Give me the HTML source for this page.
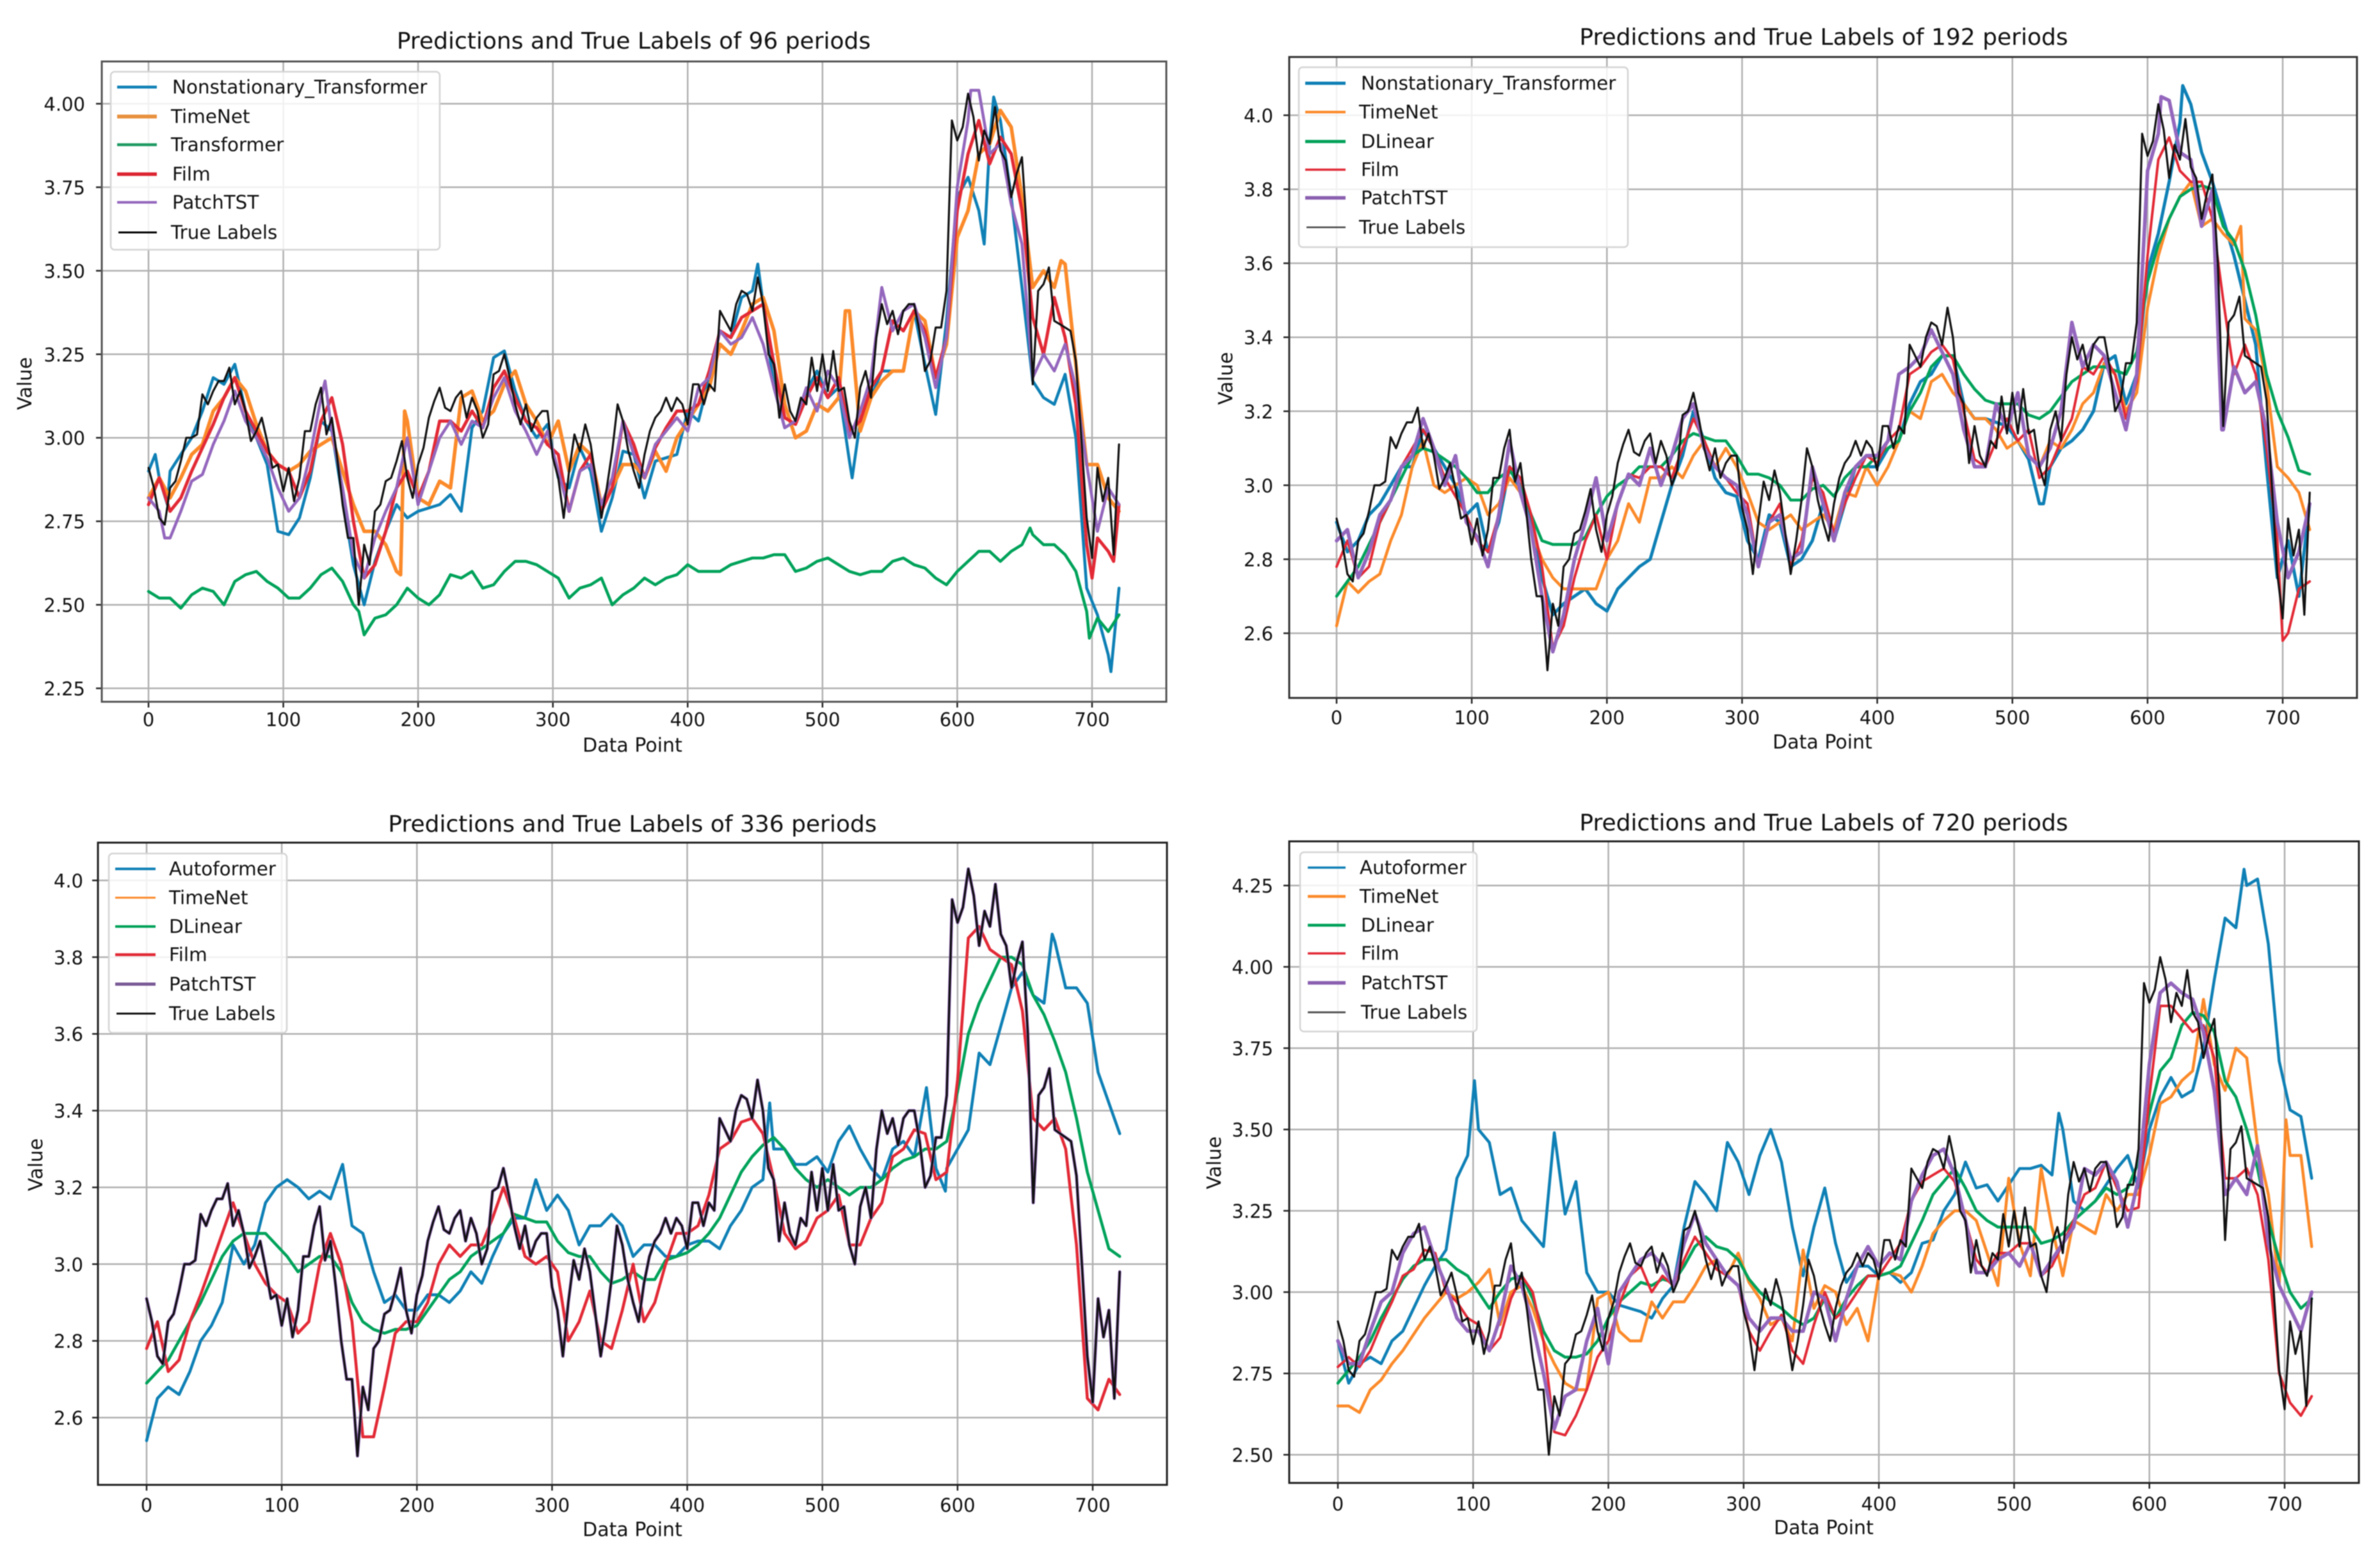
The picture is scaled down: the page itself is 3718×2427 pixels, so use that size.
<!DOCTYPE html>
<html lang="en">
<head>
<meta charset="utf-8">
<title>Predictions and True Labels</title>
<style>
html,body{margin:0;padding:0;background:#fff;}
svg{display:block;filter:blur(0.8px);}
text{font-family:"DejaVu Sans","Liberation Sans",sans-serif;fill:#111;}
.title{font-size:36px;text-anchor:middle;}
.axis-label{font-size:30px;text-anchor:middle;}
.legend-text{font-size:29.4px;}
.tick-label{font-size:29px;}
.legend-box{fill:#fff;fill-opacity:.82;stroke:#d4d4d4;stroke-width:2.5;}
</style>
</head>
<body>
<svg id="figure" xmlns="http://www.w3.org/2000/svg" width="3718" height="2427" viewBox="0 0 3718 2427">
  <rect width="3718" height="2427" fill="#fff"/>

  <g>
    <g id="plot-p96"></g>
    <text class="title" x="990" y="76">Predictions and True Labels of 96 periods</text>
    <text class="axis-label" x="988" y="1174">Data Point</text>
    <text class="axis-label" transform="translate(49,599) rotate(-90)">Value</text>
    <g>
      <rect class="legend-box" x="173" y="112" width="514" height="278" rx="6"/>
      <g><line x1="183" x2="245" y1="136" y2="136" stroke="#0f80b5" stroke-width="4.5"/><text class="legend-text" x="269" y="146">Nonstationary_Transformer</text></g>
      <g><line x1="183" x2="245" y1="182" y2="182" stroke="#e8913f" stroke-width="6"/><text class="legend-text" x="267" y="192">TimeNet</text></g>
      <g><line x1="183" x2="245" y1="226" y2="226" stroke="#1f9a63" stroke-width="4.5"/><text class="legend-text" x="267" y="236">Transformer</text></g>
      <g><line x1="183" x2="245" y1="272" y2="272" stroke="#dc2430" stroke-width="5.5"/><text class="legend-text" x="269" y="282">Film</text></g>
      <g><line x1="183" x2="245" y1="316" y2="316" stroke="#9467bd" stroke-width="4"/><text class="legend-text" x="269" y="326">PatchTST</text></g>
      <g><line x1="185" x2="245" y1="363" y2="363" stroke="#000" stroke-width="3"/><text class="legend-text" x="267" y="373">True Labels</text></g>
    </g>
  </g>

  <g>
    <g id="plot-p192"></g>
    <text class="title" x="2849" y="70">Predictions and True Labels of 192 periods</text>
    <text class="axis-label" x="2847" y="1169">Data Point</text>
    <text class="axis-label" transform="translate(1925,591) rotate(-90)">Value</text>
    <g>
      <rect class="legend-box" x="2029" y="105" width="514" height="281" rx="6"/>
      <g><line x1="2039" x2="2102" y1="130" y2="130" stroke="#0f80b5" stroke-width="5"/><text class="legend-text" x="2126" y="140">Nonstationary_Transformer</text></g>
      <g><line x1="2039" x2="2102" y1="175" y2="175" stroke="#fb8a2a" stroke-width="4"/><text class="legend-text" x="2123" y="185">TimeNet</text></g>
      <g><line x1="2039" x2="2102" y1="221" y2="221" stroke="#00a25a" stroke-width="5"/><text class="legend-text" x="2126" y="231">DLinear</text></g>
      <g><line x1="2039" x2="2102" y1="265" y2="265" stroke="#e22a36" stroke-width="3.5"/><text class="legend-text" x="2126" y="275">Film</text></g>
      <g><line x1="2039" x2="2102" y1="309" y2="309" stroke="#8a5fb0" stroke-width="5.5"/><text class="legend-text" x="2126" y="319">PatchTST</text></g>
      <g><line x1="2041" x2="2102" y1="355" y2="355" stroke="#444" stroke-width="2.5"/><text class="legend-text" x="2123" y="365">True Labels</text></g>
    </g>
  </g>

  <g>
    <g id="plot-p336"></g>
    <text class="title" x="988" y="1299">Predictions and True Labels of 336 periods</text>
    <text class="axis-label" x="988" y="2399">Data Point</text>
    <text class="axis-label" transform="translate(66,1819) rotate(-90)">Value</text>
    <g>
      <rect class="legend-box" x="170" y="1333" width="278" height="280" rx="6"/>
      <g><line x1="180" x2="243" y1="1357" y2="1357" stroke="#0f80b5" stroke-width="4"/><text class="legend-text" x="264" y="1367">Autoformer</text></g>
      <g><line x1="180" x2="243" y1="1402" y2="1402" stroke="#fb8a2a" stroke-width="3"/><text class="legend-text" x="264" y="1412">TimeNet</text></g>
      <g><line x1="180" x2="243" y1="1447" y2="1447" stroke="#00a25a" stroke-width="4"/><text class="legend-text" x="264" y="1457">DLinear</text></g>
      <g><line x1="180" x2="243" y1="1491" y2="1491" stroke="#e22a36" stroke-width="4.5"/><text class="legend-text" x="264" y="1501">Film</text></g>
      <g><line x1="180" x2="243" y1="1537" y2="1537" stroke="#7a5a96" stroke-width="5"/><text class="legend-text" x="264" y="1547">PatchTST</text></g>
      <g><line x1="182" x2="243" y1="1583" y2="1583" stroke="#111" stroke-width="3"/><text class="legend-text" x="264" y="1593">True Labels</text></g>
    </g>
  </g>

  <g>
    <g id="plot-p720"></g>
    <text class="title" x="2849" y="1297">Predictions and True Labels of 720 periods</text>
    <text class="axis-label" x="2849" y="2396">Data Point</text>
    <text class="axis-label" transform="translate(1907,1816) rotate(-90)">Value</text>
    <g>
      <rect class="legend-box" x="2031" y="1331" width="276" height="280" rx="6"/>
      <g><line x1="2043" x2="2102" y1="1355" y2="1355" stroke="#0f80b5" stroke-width="3.5"/><text class="legend-text" x="2124" y="1365">Autoformer</text></g>
      <g><line x1="2043" x2="2102" y1="1400" y2="1400" stroke="#fb8a2a" stroke-width="4.5"/><text class="legend-text" x="2124" y="1410">TimeNet</text></g>
      <g><line x1="2043" x2="2102" y1="1445" y2="1445" stroke="#00a25a" stroke-width="4.5"/><text class="legend-text" x="2126" y="1455">DLinear</text></g>
      <g><line x1="2043" x2="2102" y1="1489" y2="1489" stroke="#e22a36" stroke-width="3.5"/><text class="legend-text" x="2126" y="1499">Film</text></g>
      <g><line x1="2043" x2="2102" y1="1535" y2="1535" stroke="#8a5fb0" stroke-width="5.5"/><text class="legend-text" x="2126" y="1545">PatchTST</text></g>
      <g><line x1="2043" x2="2102" y1="1581" y2="1581" stroke="#555" stroke-width="3"/><text class="legend-text" x="2126" y="1591">True Labels</text></g>
    </g>
  </g>
</svg>

<script>
// x tick values shared by all panels
const xTickValues = [0,100,200,300,400,500,600,700];
// y tick labels per panel
const yTicks96 = ['2.25','2.50','2.75','3.00','3.25','3.50','3.75','4.00'];
const yTicks192 = ['2.6','2.8','3.0','3.2','3.4','3.6','3.8','4.0'];
const yTicks336 = ['2.6','2.8','3.0','3.2','3.4','3.6','3.8','4.0'];
const yTicks720 = ['2.50','2.75','3.00','3.25','3.50','3.75','4.00','4.25'];

// spacing of samples along the data-point axis
const trueStep = 4;
const seriesStep = 8;

// true labels, one value every 4 data points
const trueLabels = [
2.91,2.85,2.76,2.74,2.85,2.87,2.93,3.00,3.00,3.01,
3.13,3.10,3.14,3.17,3.17,3.21,3.10,3.14,3.08,2.99,
3.02,3.06,2.99,2.91,2.92,2.84,2.91,2.81,2.88,3.02,
3.02,3.10,3.15,3.01,3.06,2.94,2.80,2.70,2.70,2.50,
2.68,2.62,2.78,2.80,2.87,2.88,2.93,2.99,2.88,2.82,
2.92,2.97,3.06,3.11,3.15,3.09,3.08,3.12,3.14,3.06,
3.12,3.08,3.00,3.04,3.19,3.20,3.25,3.18,3.10,3.04,
3.10,3.02,3.06,3.08,3.08,2.94,2.88,2.76,2.90,3.01,
2.96,3.04,2.98,2.87,2.76,2.85,2.96,3.10,3.05,2.96,
2.90,2.85,2.95,3.02,3.06,3.08,3.12,3.08,3.12,3.10,
3.04,3.16,3.16,3.10,3.16,3.14,3.38,3.35,3.32,3.40,
3.44,3.43,3.38,3.48,3.40,3.25,3.22,3.06,3.16,3.08,
3.05,3.12,3.10,3.24,3.14,3.25,3.14,3.26,3.14,3.15,
3.05,3.00,3.15,3.20,3.12,3.30,3.40,3.34,3.38,3.31,
3.38,3.40,3.40,3.32,3.20,3.23,3.33,3.33,3.44,3.95,
3.89,3.93,4.03,3.96,3.83,3.92,3.88,3.99,3.86,3.83,
3.72,3.79,3.84,3.60,3.16,3.44,3.46,3.51,3.35,3.34,
3.33,3.32,3.23,3.00,2.76,2.64,2.91,2.81,2.88,2.65,
2.98];

// 96-period panel, one value every 8 data points
const p96Nonstationary = [
2.90,2.88,2.90,2.95,3.00,3.08,3.18,3.16,3.22,3.08,
3.00,2.92,2.72,2.71,2.76,2.88,3.05,3.02,2.82,2.62,
2.50,2.63,2.72,2.80,2.76,2.78,2.79,2.80,2.83,2.78,
3.03,3.08,3.24,3.26,3.14,3.05,3.00,3.04,2.88,2.85,
2.97,2.90,2.72,2.82,2.96,2.95,2.82,2.93,2.94,2.95,
3.08,3.05,3.18,3.32,3.30,3.42,3.44,3.40,3.15,3.03,
3.05,3.14,3.20,3.12,3.15,2.93,3.05,3.12,3.20,3.20,
3.20,3.38,3.22,3.07,3.35,3.72,3.78,3.68,3.88,3.95,
3.72,3.45,3.17,3.12,3.10,3.19,3.00,2.55,2.47,2.35,
2.55];
const p96TimeNet = [
2.82,2.88,2.82,2.88,2.95,2.98,3.08,3.12,3.18,3.14,
3.04,2.96,2.92,2.90,2.92,2.96,2.98,3.00,2.90,2.80,
2.72,2.72,2.68,2.60,3.05,2.82,2.80,2.87,2.85,3.12,
3.14,3.05,3.08,3.16,3.20,3.10,3.05,2.98,3.05,2.90,
2.98,2.95,2.80,2.85,2.92,2.92,2.88,2.96,2.90,3.00,
3.05,3.10,3.15,3.28,3.25,3.32,3.40,3.42,3.32,3.10,
3.00,3.02,3.10,3.08,3.12,3.38,3.02,3.12,3.17,3.20,
3.20,3.38,3.35,3.18,3.28,3.60,3.68,3.85,3.88,3.98,
3.93,3.72,3.45,3.50,3.45,3.52,3.22,2.92,2.92,2.82,
2.78];
const p96Transformer = [
2.54,2.52,2.52,2.49,2.53,2.55,2.54,2.50,2.57,2.59,
2.60,2.57,2.55,2.52,2.52,2.55,2.59,2.61,2.57,2.50,
2.41,2.46,2.47,2.50,2.55,2.52,2.50,2.53,2.59,2.58,
2.60,2.55,2.56,2.60,2.63,2.63,2.62,2.60,2.58,2.52,
2.55,2.56,2.58,2.50,2.53,2.55,2.58,2.56,2.58,2.59,
2.62,2.60,2.60,2.60,2.62,2.63,2.64,2.64,2.65,2.65,
2.60,2.61,2.63,2.64,2.62,2.60,2.59,2.60,2.60,2.63,
2.64,2.62,2.61,2.58,2.56,2.60,2.63,2.66,2.66,2.63,
2.66,2.68,2.71,2.68,2.68,2.65,2.60,2.48,2.46,2.42,
2.47];
const p96Film = [
2.80,2.88,2.78,2.82,2.90,2.97,3.04,3.12,3.18,3.08,
3.02,2.96,2.92,2.90,2.82,2.90,3.05,3.12,2.98,2.75,
2.58,2.62,2.72,2.85,2.90,2.82,2.90,3.05,3.05,3.02,
3.08,3.03,3.15,3.20,3.12,3.05,3.03,2.98,2.95,2.78,
2.90,2.95,2.78,2.85,3.05,2.98,2.88,2.97,3.03,3.08,
3.08,3.10,3.20,3.32,3.30,3.36,3.38,3.40,3.22,3.06,
3.04,3.12,3.18,3.12,3.18,3.02,3.05,3.15,3.20,3.35,
3.32,3.38,3.32,3.18,3.30,3.68,3.85,3.95,3.82,3.90,
3.85,3.68,3.36,3.25,3.42,3.30,3.10,2.68,2.70,2.66,
2.80];
const p96PatchTST = [
2.82,2.78,2.70,2.78,2.87,2.89,2.98,3.05,3.14,3.05,
3.00,2.94,2.85,2.78,2.82,2.95,3.12,3.02,2.85,2.65,
2.58,2.70,2.78,2.85,3.00,2.80,2.90,3.00,3.05,2.98,
3.05,3.03,3.12,3.18,3.08,3.02,2.95,3.02,2.90,2.78,
2.90,2.92,2.80,2.88,3.05,2.95,2.88,2.98,3.02,3.06,
3.02,3.15,3.18,3.32,3.28,3.30,3.36,3.28,3.15,3.03,
3.05,3.15,3.08,3.20,3.15,3.00,3.08,3.18,3.45,3.32,
3.38,3.40,3.30,3.15,3.30,3.75,3.95,4.04,3.85,3.88,
3.70,3.58,3.18,3.25,3.20,3.28,3.15,2.92,2.72,2.85,
2.80];

// 192-period panel
const p192Nonstationary = [
2.90,2.82,2.85,2.92,2.95,3.00,3.05,3.05,3.15,3.10,
3.05,3.00,2.92,2.95,2.82,2.90,3.05,2.98,2.90,2.75,
2.65,2.68,2.70,2.72,2.68,2.66,2.72,2.75,2.78,2.80,
2.90,3.00,3.08,3.20,3.12,3.02,2.98,2.97,2.85,2.80,
2.92,2.90,2.78,2.80,2.85,2.95,2.85,2.95,3.05,3.05,
3.05,3.10,3.12,3.22,3.28,3.30,3.35,3.35,3.22,3.18,
3.18,3.17,3.16,3.12,3.07,2.95,3.05,3.10,3.12,3.15,
3.20,3.33,3.35,3.22,3.30,3.58,3.68,3.82,3.98,4.03,
3.90,3.82,3.72,3.62,3.50,3.38,3.05,2.75,2.85,2.70,
2.95];
const p192TimeNet = [
2.62,2.74,2.71,2.74,2.76,2.85,2.92,3.05,3.12,3.00,
2.98,3.00,3.02,3.00,2.92,2.95,3.02,2.98,2.88,2.80,
2.75,2.72,2.72,2.72,2.72,2.80,2.85,2.95,2.90,3.02,
3.02,3.05,3.02,3.08,3.12,3.05,3.10,3.05,2.98,2.90,
2.88,2.90,2.92,2.88,2.90,2.92,2.88,2.98,2.97,3.05,
3.00,3.05,3.12,3.20,3.18,3.28,3.30,3.25,3.22,3.18,
3.18,3.15,3.10,3.12,3.08,3.05,3.12,3.10,3.15,3.22,
3.25,3.33,3.30,3.20,3.25,3.48,3.62,3.72,3.78,3.82,
3.70,3.72,3.68,3.65,3.45,3.42,3.28,3.05,3.02,2.98,
2.88];
const p192DLinear = [
2.70,2.74,2.78,2.84,2.90,2.96,3.02,3.08,3.10,3.09,
3.07,3.05,3.02,2.98,2.98,3.02,3.04,3.00,2.92,2.85,
2.84,2.84,2.84,2.86,2.92,2.97,3.00,3.02,3.05,3.05,
3.05,3.08,3.12,3.14,3.13,3.12,3.12,3.08,3.03,3.03,
3.02,3.00,2.96,2.96,2.99,3.00,2.97,3.02,3.05,3.05,
3.08,3.10,3.12,3.20,3.25,3.32,3.35,3.35,3.30,3.26,
3.23,3.22,3.22,3.22,3.19,3.18,3.20,3.24,3.28,3.30,
3.32,3.32,3.31,3.30,3.36,3.55,3.65,3.72,3.78,3.80,
3.81,3.80,3.70,3.66,3.58,3.46,3.30,3.20,3.13,3.04,
3.03];
const p192Film = [
2.78,2.85,2.75,2.78,2.90,2.96,3.05,3.10,3.15,3.10,
3.02,2.97,2.92,2.85,2.82,2.92,3.05,3.02,2.92,2.78,
2.56,2.62,2.75,2.85,2.92,2.80,2.95,3.03,3.02,3.05,
3.05,3.02,3.10,3.18,3.12,3.05,3.02,2.98,2.95,2.78,
2.90,2.95,2.78,2.85,3.02,2.98,2.87,2.95,3.02,3.08,
3.06,3.12,3.15,3.30,3.32,3.36,3.38,3.34,3.20,3.07,
3.05,3.12,3.18,3.12,3.15,3.02,3.05,3.12,3.18,3.32,
3.30,3.35,3.30,3.18,3.28,3.62,3.88,3.94,3.85,3.82,
3.82,3.72,3.50,3.30,3.38,3.30,3.10,2.85,2.60,2.72,
2.74];
const p192PatchTST = [
2.85,2.88,2.75,2.82,2.92,2.96,3.05,3.08,3.18,3.10,
3.00,3.08,2.90,2.86,2.78,2.92,3.12,2.98,2.88,2.70,
2.55,2.65,2.80,2.90,3.02,2.85,2.95,3.03,3.00,3.10,
3.00,3.08,3.18,3.22,3.10,3.05,3.02,3.00,2.92,2.78,
2.90,2.92,2.80,2.82,3.05,2.95,2.85,2.98,3.05,3.08,
3.08,3.12,3.30,3.32,3.35,3.42,3.36,3.30,3.15,3.05,
3.05,3.22,3.15,3.25,3.08,3.05,3.10,3.20,3.44,3.32,
3.38,3.35,3.25,3.15,3.30,3.85,3.95,4.04,3.90,3.88,
3.70,3.80,3.15,3.32,3.25,3.28,3.15,2.90,2.75,2.82,
2.95];

// 336-period panel
const p336Autoformer = [
2.54,2.65,2.68,2.66,2.72,2.80,2.84,2.90,3.05,3.00,
3.05,3.16,3.20,3.22,3.20,3.17,3.19,3.17,3.25,3.10,
3.08,2.98,2.90,2.92,2.88,2.88,2.92,2.92,2.90,2.93,
2.98,2.95,3.02,3.08,3.12,3.12,3.22,3.14,3.18,3.14,
3.05,3.10,3.10,3.13,3.10,3.02,3.05,3.05,3.02,3.02,
3.05,3.06,3.06,3.04,3.10,3.14,3.20,3.22,3.30,3.30,
3.26,3.26,3.28,3.24,3.32,3.36,3.30,3.25,3.22,3.30,
3.32,3.28,3.44,3.25,3.25,3.30,3.35,3.55,3.52,3.62,
3.72,3.76,3.70,3.68,3.84,3.72,3.72,3.68,3.50,3.42,
3.34];
const p336DLinear = [
2.69,2.72,2.75,2.80,2.85,2.90,2.96,3.02,3.06,3.08,
3.08,3.08,3.05,3.02,2.98,3.00,3.02,3.02,2.98,2.90,
2.85,2.83,2.82,2.83,2.83,2.84,2.88,2.92,2.96,2.98,
3.02,3.04,3.06,3.08,3.13,3.12,3.11,3.11,3.06,3.03,
3.02,3.02,2.98,2.95,2.96,2.98,2.96,2.96,3.01,3.02,
3.03,3.05,3.08,3.12,3.18,3.24,3.28,3.31,3.33,3.30,
3.25,3.22,3.20,3.22,3.20,3.18,3.20,3.20,3.22,3.25,
3.27,3.28,3.30,3.30,3.32,3.45,3.60,3.68,3.74,3.80,
3.80,3.78,3.70,3.65,3.58,3.50,3.38,3.24,3.14,3.04,
3.02];
const p336Film = [
2.78,2.85,2.72,2.75,2.85,2.92,3.00,3.08,3.16,3.08,
3.00,2.95,2.92,2.90,2.82,2.85,3.00,3.08,3.00,2.85,
2.55,2.55,2.68,2.82,2.85,2.85,2.90,3.00,3.05,3.02,
3.05,3.05,3.12,3.20,3.12,3.02,3.00,3.02,2.98,2.80,
2.85,2.93,2.80,2.78,2.88,3.00,2.85,2.90,3.00,3.08,
3.08,3.10,3.18,3.30,3.32,3.37,3.38,3.34,3.22,3.08,
3.04,3.06,3.12,3.14,3.18,3.05,3.05,3.12,3.16,3.28,
3.30,3.35,3.34,3.22,3.24,3.48,3.85,3.88,3.82,3.80,
3.78,3.66,3.38,3.35,3.38,3.30,3.05,2.65,2.62,2.70,
2.66];

// 720-period panel
const p720Autoformer = [
2.85,2.72,2.78,2.80,2.78,2.85,2.88,2.95,3.02,3.08,
3.13,3.35,3.42,3.50,3.46,3.30,3.32,3.22,3.18,3.14,
3.49,3.24,3.34,3.06,3.00,3.00,2.96,2.95,2.94,2.92,
2.98,3.02,3.20,3.34,3.30,3.25,3.46,3.40,3.30,3.42,
3.50,3.40,3.20,3.05,3.20,3.32,3.15,3.03,3.08,3.08,
3.05,3.06,3.03,3.06,3.15,3.16,3.25,3.30,3.40,3.32,
3.33,3.28,3.33,3.38,3.38,3.39,3.36,3.50,3.28,3.25,
3.28,3.33,3.38,3.42,3.32,3.50,3.60,3.66,3.60,3.62,
3.75,3.96,4.15,4.12,4.25,4.27,4.07,3.71,3.56,3.54,
3.35];
const p720TimeNet = [
2.65,2.65,2.63,2.70,2.73,2.78,2.82,2.87,2.92,2.96,
3.00,2.98,3.00,3.03,3.07,2.90,3.00,3.02,2.95,2.85,
2.78,2.72,2.70,2.70,2.98,3.00,2.88,2.85,2.85,2.97,
2.92,2.97,2.97,3.02,3.08,3.10,3.05,3.12,3.03,2.98,
2.90,2.92,2.85,3.13,2.95,3.02,3.00,2.90,2.95,2.85,
3.05,3.06,3.05,3.00,3.08,3.18,3.22,3.25,3.25,3.22,
3.12,3.02,3.35,3.15,3.05,3.38,3.20,3.05,3.22,3.20,
3.18,3.30,3.25,3.30,3.30,3.42,3.58,3.60,3.65,3.68,
3.90,3.70,3.62,3.75,3.72,3.45,3.30,3.02,3.42,3.42,
3.14];
const p720DLinear = [
2.72,2.76,2.80,2.85,2.92,2.98,3.04,3.08,3.10,3.10,
3.10,3.07,3.05,3.00,2.95,3.00,3.04,3.05,2.98,2.88,
2.82,2.80,2.80,2.81,2.85,2.92,2.97,3.00,3.03,3.02,
3.04,3.03,3.08,3.14,3.17,3.14,3.13,3.10,3.04,3.00,
2.97,2.95,2.92,2.90,2.92,2.98,2.92,2.98,3.02,3.05,
3.05,3.06,3.08,3.15,3.22,3.30,3.34,3.38,3.32,3.25,
3.22,3.20,3.20,3.20,3.20,3.15,3.16,3.18,3.22,3.25,
3.28,3.32,3.30,3.32,3.40,3.55,3.68,3.72,3.82,3.86,
3.85,3.80,3.65,3.60,3.50,3.38,3.22,3.10,3.00,2.95,
2.98];
const p720Film = [
2.77,2.80,2.77,2.82,2.90,2.97,3.05,3.07,3.13,3.12,
3.00,2.97,2.92,2.90,2.82,2.86,2.98,3.05,3.00,2.85,
2.57,2.56,2.62,2.70,2.80,2.85,2.96,3.05,3.08,3.00,
3.05,3.02,3.10,3.17,3.12,3.07,3.05,3.02,2.88,2.82,
2.88,2.93,2.82,2.78,2.90,3.00,2.92,2.95,3.00,3.05,
3.05,3.10,3.15,3.28,3.34,3.36,3.38,3.34,3.22,3.10,
3.06,3.12,3.12,3.15,3.15,3.05,3.08,3.15,3.22,3.30,
3.32,3.40,3.32,3.25,3.26,3.60,3.88,3.88,3.84,3.80,
3.82,3.72,3.35,3.35,3.38,3.30,3.10,2.75,2.66,2.62,
2.68];
const p720PatchTST = [
2.85,2.78,2.78,2.88,2.97,3.00,3.12,3.18,3.20,3.10,
3.02,2.92,2.88,2.88,2.82,2.92,3.08,3.02,2.90,2.75,
2.58,2.68,2.70,2.85,2.95,2.78,3.00,3.05,3.10,3.12,
3.08,3.02,3.15,3.24,3.15,3.10,3.05,3.02,2.92,2.88,
2.92,2.92,2.88,2.88,3.00,2.98,2.85,2.98,3.08,3.14,
3.08,3.12,3.10,3.28,3.36,3.42,3.44,3.36,3.22,3.06,
3.06,3.10,3.12,3.08,3.15,3.05,3.10,3.15,3.20,3.38,
3.36,3.40,3.34,3.20,3.35,3.70,3.92,3.95,3.92,3.90,
3.80,3.62,3.30,3.35,3.30,3.45,3.15,3.02,2.95,2.88,
3.00];

// sharp off-grid extremes: data point, then value
const p96NonstationaryPeakX = [5,14,452,522,620,627,714];
const p96NonstationaryPeakV = [2.95,2.80,3.52,2.88,3.58,4.02,2.30];
const p96TimeNetPeakX = [187,190,517,677];
const p96TimeNetPeakV = [2.59,3.08,3.38,3.53];
const p96TransformerPeakX = [156,698,654];
const p96TransformerPeakV = [2.48,2.40,2.73];
const p96FilmPeakX = [700,716];
const p96FilmPeakV = [2.58,2.63];
const p96PatchTSTPeakX = [12,131,610];
const p96PatchTSTPeakV = [2.70,3.17,4.04];
const p192NonstationaryPeakX = [523,626];
const p192NonstationaryPeakV = [2.95,4.08];
const p192TimeNetPeakX = [669];
const p192TimeNetPeakV = [3.70];
const p192FilmPeakX = [700];
const p192FilmPeakV = [2.58];
const p192PatchTSTPeakX = [610,655];
const p192PatchTSTPeakV = [4.05,3.15];
const p336AutoformerPeakX = [145,461,577,591,670];
const p336AutoformerPeakV = [3.26,3.42,3.46,3.19,3.86];
const p720AutoformerPeakX = [101,533,670];
const p720AutoformerPeakV = [3.65,3.55,4.30];
const p720TimeNetPeakX = [701];
const p720TimeNetPeakV = [3.53];

const SVG_NS = 'http://www.w3.org/2000/svg';
const COLORS = {blue:'#0f80b5',orange:'#fb8a2a',green:'#00a25a',red:'#e22a36',purple:'#9467bd',black:'#111111'};

const panels = [
  {id:'p96', frame:{l:159,r:1822,t:96,b:1096}, x0:232, x700:1706, yLo:2.25, yLoPx:1075, yHi:4, yHiPx:162,
   labelRight:133, xLabelY:1134, spine:'#555', yTicks:yTicks96,
   series:[
    {name:'nonstationary-transformer',values:p96Nonstationary,step:seriesStep,peakX:p96NonstationaryPeakX,peakV:p96NonstationaryPeakV,color:COLORS.blue,width:4.6},
    {name:'timenet',values:p96TimeNet,step:seriesStep,peakX:p96TimeNetPeakX,peakV:p96TimeNetPeakV,color:COLORS.orange,width:5.6},
    {name:'transformer',values:p96Transformer,step:seriesStep,peakX:p96TransformerPeakX,peakV:p96TransformerPeakV,color:COLORS.green,width:4.6},
    {name:'film',values:p96Film,step:seriesStep,peakX:p96FilmPeakX,peakV:p96FilmPeakV,color:COLORS.red,width:5},
    {name:'patchtst',values:p96PatchTST,step:seriesStep,peakX:p96PatchTSTPeakX,peakV:p96PatchTSTPeakV,color:COLORS.purple,width:4.6},
    {name:'true-labels',values:trueLabels,step:trueStep,color:COLORS.black,width:3.2}
   ]},
  {id:'p192', frame:{l:2014,r:3682,t:89,b:1090}, x0:2088, x700:3566, yLo:2.6, yLoPx:989, yHi:4, yHiPx:180,
   labelRight:1989, xLabelY:1131, spine:'#333', yTicks:yTicks192,
   series:[
    {name:'nonstationary-transformer',values:p192Nonstationary,step:seriesStep,peakX:p192NonstationaryPeakX,peakV:p192NonstationaryPeakV,color:COLORS.blue,width:5},
    {name:'timenet',values:p192TimeNet,step:seriesStep,peakX:p192TimeNetPeakX,peakV:p192TimeNetPeakV,color:COLORS.orange,width:4.6},
    {name:'dlinear',values:p192DLinear,step:seriesStep,color:COLORS.green,width:4.6},
    {name:'film',values:p192Film,step:seriesStep,peakX:p192FilmPeakX,peakV:p192FilmPeakV,color:COLORS.red,width:4},
    {name:'patchtst',values:p192PatchTST,step:seriesStep,peakX:p192PatchTSTPeakX,peakV:p192PatchTSTPeakV,color:COLORS.purple,width:5.6},
    {name:'true-labels',values:trueLabels,step:trueStep,color:COLORS.black,width:3.2}
   ]},
  {id:'p336', frame:{l:153,r:1823,t:1316,b:2319}, x0:229, x700:1707, yLo:2.6, yLoPx:2214, yHi:4, yHiPx:1375,
   labelRight:130, xLabelY:2361, spine:'#222', yTicks:yTicks336,
   series:[
    {name:'autoformer',values:p336Autoformer,step:seriesStep,peakX:p336AutoformerPeakX,peakV:p336AutoformerPeakV,color:COLORS.blue,width:4.6},
    {name:'timenet',values:p336Film,step:seriesStep,color:COLORS.orange,width:3},
    {name:'dlinear',values:p336DLinear,step:seriesStep,color:COLORS.green,width:4.6},
    {name:'film',values:p336Film,step:seriesStep,color:COLORS.red,width:4.6},
    {name:'patchtst',values:trueLabels,step:trueStep,color:COLORS.purple,width:5},
    {name:'true-labels',values:trueLabels,step:trueStep,color:COLORS.black,width:3.2}
   ]},
  {id:'p720', frame:{l:2014,r:3685,t:1314,b:2316}, x0:2090, x700:3569, yLo:2.5, yLoPx:2272, yHi:4.25, yHiPx:1383,
   labelRight:1989, xLabelY:2359, spine:'#222', yTicks:yTicks720,
   series:[
    {name:'autoformer',values:p720Autoformer,step:seriesStep,peakX:p720AutoformerPeakX,peakV:p720AutoformerPeakV,color:COLORS.blue,width:4.6},
    {name:'timenet',values:p720TimeNet,step:seriesStep,peakX:p720TimeNetPeakX,peakV:p720TimeNetPeakV,color:COLORS.orange,width:4.6},
    {name:'dlinear',values:p720DLinear,step:seriesStep,color:COLORS.green,width:4.6},
    {name:'film',values:p720Film,step:seriesStep,color:COLORS.red,width:4},
    {name:'patchtst',values:p720PatchTST,step:seriesStep,color:COLORS.purple,width:5.6},
    {name:'true-labels',values:trueLabels,step:trueStep,color:COLORS.black,width:3.2}
   ]}
];

function make(tag, attrs, parent){
  const el = document.createElementNS(SVG_NS, tag);
  for (const k in attrs) el.setAttribute(k, attrs[k]);
  parent.appendChild(el);
  return el;
}
function xScaleFor(p){ return v => p.x0 + (p.x700 - p.x0) * v / 700; }
function yScaleFor(p){ return v => p.yLoPx + (p.yHiPx - p.yLoPx) * (v - p.yLo) / (p.yHi - p.yLo); }
function pointsOf(s){
  const pts = s.values.map((v, i) => [i * s.step, v]);
  (s.peakX || []).forEach((x, i) => pts.push([x, s.peakV[i]]));
  return pts.sort((a, b) => a[0] - b[0]);
}

panels.forEach(p => {
  const root = document.getElementById('plot-' + p.id);
  const xs = xScaleFor(p), ys = yScaleFor(p), f = p.frame;

  make('rect', {x:f.l, y:f.t, width:f.r-f.l, height:f.b-f.t, fill:'#fff'}, root);

  // vertical grid, ticks and labels
  xTickValues.forEach(v => {
    const px = xs(v);
    const grid = make('line', {x1:px, x2:px, y1:f.t, y2:f.b, stroke:'#b0b0b0', 'stroke-width':2.5}, root);
    
    
    const tick = make('line', {x1:px, x2:px, y1:f.b, y2:f.b+9, stroke:'#222', 'stroke-width':2.5}, root);
    
    
    const label = make('text', {class:'tick-label', x:px, y:p.xLabelY, 'text-anchor':'middle'}, root);
    label.textContent = String(v);
    
    
  });

  // horizontal grid, ticks and labels
  p.yTicks.forEach(t => {
    const py = ys(parseFloat(t));
    const grid = make('line', {x1:f.l, x2:f.r, y1:py, y2:py, stroke:'#b0b0b0', 'stroke-width':2.5}, root);
    
    
    const tick = make('line', {x1:f.l-9, x2:f.l, y1:py, y2:py, stroke:'#222', 'stroke-width':2.5}, root);
    
    
    const label = make('text', {class:'tick-label', x:p.labelRight, y:py+11, 'text-anchor':'end'}, root);
    label.textContent = t;
    
    
  });

  // series lines
  p.series.forEach(s => {
    const d = pointsOf(s).map((pt, i) => (i ? 'L' : 'M') + xs(pt[0]).toFixed(1) + ' ' + ys(pt[1]).toFixed(1)).join('');
    const line = make('path', {d:d, fill:'none', stroke:s.color, 'stroke-width':s.width, 'stroke-linejoin':'round', 'stroke-linecap':'round'}, root);
    
    
  });

  const frame = make('rect', {x:f.l, y:f.t, width:f.r-f.l, height:f.b-f.t, fill:'none', stroke:p.spine, 'stroke-width':3}, root);
  
  
});
</script>
</body>
</html>
